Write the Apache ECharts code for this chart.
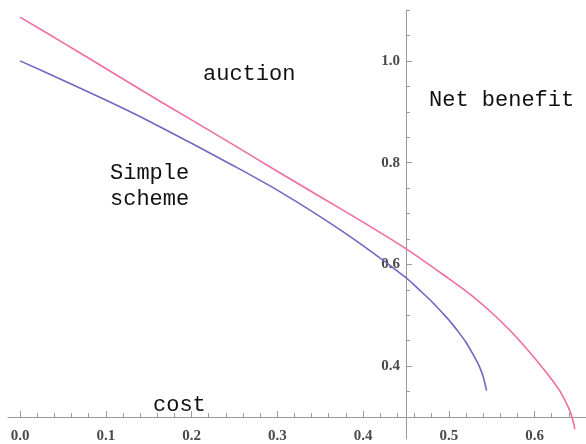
<!DOCTYPE html>
<html>
<head>
<meta charset="utf-8">
<script src="https://cdn.jsdelivr.net/npm/echarts@6/dist/echarts.min.js"></script>
<style>
  html, body { margin: 0; padding: 0; background: #ffffff; }
  #chart { width: 586px; height: 444px; }
</style>
</head>
<body>
<div id="chart"></div>
<script>
// Net benefit as a function of cost, simple scheme
const simpleCost    = [0, 0.05, 0.10, 0.15, 0.20, 0.25, 0.30, 0.35, 0.40, 0.45, 0.465, 0.48, 0.50, 0.51, 0.52, 0.53, 0.535, 0.54, 0.544];
const simpleBenefit = [1.000, 0.962, 0.923, 0.882, 0.838, 0.793, 0.746, 0.694, 0.637, 0.574, 0.551, 0.527, 0.491, 0.470, 0.447, 0.418, 0.402, 0.380, 0.352];

// Net benefit as a function of cost, auction
const auctionCost    = [0, 0.05, 0.10, 0.15, 0.20, 0.25, 0.30, 0.35, 0.40, 0.45, 0.50, 0.525, 0.55, 0.565, 0.58, 0.60, 0.62, 0.63, 0.64, 0.644, 0.647];
const auctionBenefit = [1.086, 1.036, 0.985, 0.934, 0.884, 0.834, 0.783, 0.733, 0.683, 0.631, 0.572, 0.541, 0.505, 0.481, 0.455, 0.416, 0.374, 0.350, 0.317, 0.298, 0.276];

// Tick marks
const xMajorTicks = [0, 0.1, 0.2, 0.3, 0.4, 0.5, 0.6];
const xMinorTicks = [0.02, 0.04, 0.06, 0.08, 0.12, 0.14, 0.16, 0.18, 0.22, 0.24, 0.26, 0.28,
                     0.32, 0.34, 0.36, 0.38, 0.42, 0.44, 0.46, 0.48, 0.52, 0.54, 0.56, 0.58, 0.62, 0.64];
const yMajorTicks = [0.4, 0.6, 0.8, 1.0];
const yMinorTicks = [0.3, 0.35, 0.45, 0.5, 0.55, 0.65, 0.7, 0.75, 0.85, 0.9, 0.95, 1.05, 1.1];

// Plot range and the point where the two axes cross
const xMin = -0.014, xMax = 0.66;
const yMin = 0.257, yMax = 1.1;
const xCross = 0.45, yCross = 0.3;

const gridLeft = 8, gridTop = 10, gridW = 578, gridH = 430;
const xAxisOffset = -(yCross - yMin) / (yMax - yMin) * gridH;
const yAxisOffset = -(xCross - xMin) / (xMax - xMin) * gridW;

const axisGray = '#9a9a9a';
const tickFont = { fontFamily: 'Liberation Serif', fontWeight: 'bold', fontSize: 15, color: '#4a4a4a' };
const textFont = { fontFamily: 'Liberation Mono', fontSize: 22, fill: '#111111' };

function pairs(xs, ys) { return xs.map((x, i) => [x, ys[i]]); }

const chart = echarts.init(document.getElementById('chart'), null, { renderer: 'canvas' });

chart.setOption({
  animation: false,
  backgroundColor: '#ffffff',
  grid: { left: gridLeft, top: gridTop, width: gridW, height: gridH, containLabel: false },
  xAxis: [
    {
      type: 'value', min: xMin, max: xMax, position: 'bottom', offset: xAxisOffset,
      splitLine: { show: false },
      axisLine: { show: true, onZero: false, lineStyle: { color: axisGray, width: 1 } },
      axisTick: { show: true, inside: true, length: 6, customValues: xMajorTicks, lineStyle: { color: axisGray } },
      axisLabel: Object.assign({ show: true, margin: 12, customValues: xMajorTicks, formatter: v => v.toFixed(1) }, tickFont)
    },
    {
      type: 'value', min: xMin, max: xMax, position: 'bottom', offset: xAxisOffset,
      splitLine: { show: false },
      axisLine: { show: false, onZero: false },
      axisTick: { show: true, inside: true, length: 4, customValues: xMinorTicks, lineStyle: { color: axisGray } },
      axisLabel: { show: false }
    }
  ],
  yAxis: [
    {
      type: 'value', min: yMin, max: yMax, position: 'left', offset: yAxisOffset,
      splitLine: { show: false },
      axisLine: { show: true, onZero: false, lineStyle: { color: axisGray, width: 1 } },
      axisTick: { show: true, inside: true, length: 6, customValues: yMajorTicks, lineStyle: { color: axisGray } },
      axisLabel: Object.assign({ show: true, margin: 6, customValues: yMajorTicks, formatter: v => v.toFixed(1) }, tickFont)
    },
    {
      type: 'value', min: yMin, max: yMax, position: 'left', offset: yAxisOffset,
      splitLine: { show: false },
      axisLine: { show: false, onZero: false },
      axisTick: { show: true, inside: true, length: 4, customValues: yMinorTicks, lineStyle: { color: axisGray } },
      axisLabel: { show: false }
    }
  ],
  series: [
    {
      name: 'Simple scheme', type: 'line', xAxisIndex: 0, yAxisIndex: 0,
      data: pairs(simpleCost, simpleBenefit),
      showSymbol: false, smooth: 0.3, clip: false,
      lineStyle: { color: '#7068c0', width: 1.6 }
    },
    {
      name: 'auction', type: 'line', xAxisIndex: 0, yAxisIndex: 0,
      data: pairs(auctionCost, auctionBenefit),
      showSymbol: false, smooth: 0.3, clip: false,
      lineStyle: { color: '#f06ca2', width: 1.6 }
    }
  ],
  graphic: [
    { type: 'text', left: 203, top: 63, style: Object.assign({ text: 'auction' }, textFont) },
    { type: 'text', left: 429, top: 89, style: Object.assign({ text: 'Net benefit' }, textFont) },
    { type: 'text', left: 110, top: 160, style: Object.assign({ text: 'Simple\nscheme', lineHeight: 26 }, textFont) },
    { type: 'text', left: 153, top: 394, style: Object.assign({ text: 'cost' }, textFont) }
  ]
});
</script>
</body>
</html>
